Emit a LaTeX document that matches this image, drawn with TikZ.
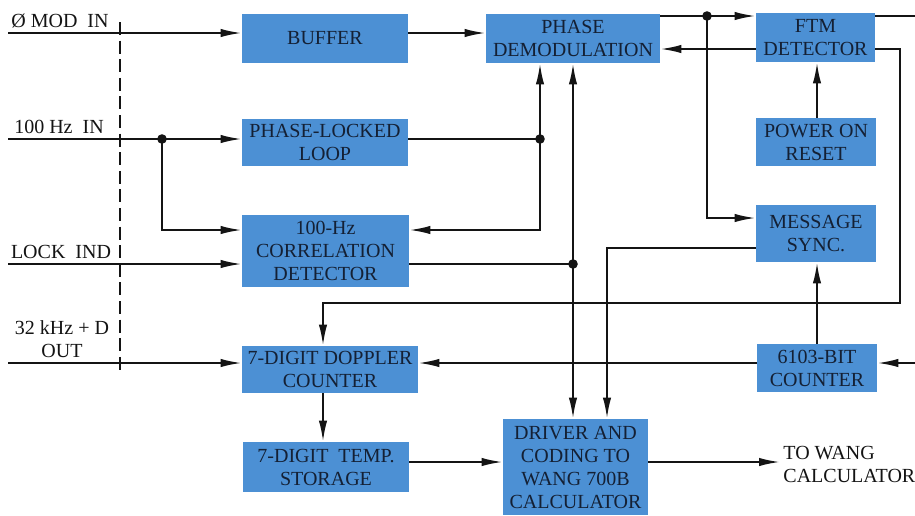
\documentclass[tikz,border=0pt]{standalone}
\usepackage{fontspec}
\setmainfont{Liberation Serif}
\usetikzlibrary{arrows.meta}
\definecolor{boxblue}{RGB}{76,144,212}
\definecolor{boxtext}{RGB}{20,32,52}
\definecolor{ink}{RGB}{20,20,20}
\begin{document}
\begin{tikzpicture}[x=0.5pt,y=-0.5pt,
  box/.style={fill=boxblue,draw=none,text=boxtext,align=center,inner sep=0pt,
    font=\rmfamily\fontsize{10}{11.5}\selectfont},
  lbl/.style={text=ink,inner sep=0pt,font=\rmfamily\fontsize{10}{11.5}\selectfont},
  wire/.style={draw=ink,line width=1pt},
  arr/.style={wire,-{Latex[length=10.5pt,width=4.2pt]}},
  arrb/.style={wire,{Latex[length=10.5pt,width=4.2pt]}-{Latex[length=10.5pt,width=4.2pt]}},
  jdot/.style={fill=ink,circle,inner sep=0pt,minimum size=4.8pt}]
\useasboundingbox (0,0) rectangle (915,515);
\fill[white] (0,0) rectangle (915,515);

% boxes
\node[box,minimum width=83pt,minimum height=24.5pt] (buf) at (325,38.5) {BUFFER};
\node[box,minimum width=83pt,minimum height=23.5pt] (pll) at (325,142.5) {PHASE-LOCKED\\LOOP};
\node[box,minimum width=83.5pt,minimum height=36pt] (corr) at (325.5,251) {100-Hz\\CORRELATION\\DETECTOR};
\node[box,minimum width=87pt,minimum height=24.5pt] (phdem) at (573,38.5) {PHASE\\DEMODULATION};
\node[box,minimum width=59.5pt,minimum height=24.5pt] (ftm) at (815.5,37.5) {FTM\\DETECTOR};
\node[box,minimum width=60pt,minimum height=24pt] (por) at (816,142) {POWER ON\\RESET};
\node[box,minimum width=60pt,minimum height=28.5pt] (msync) at (816,233.5) {MESSAGE\\SYNC.};
\node[box,minimum width=88pt,minimum height=23.5pt] (dopp) at (330,369.5) {7-DIGIT DOPPLER\\COUNTER};
\node[box,minimum width=60pt,minimum height=24pt] (bit) at (817,368) {6103-BIT\\COUNTER};
\node[box,minimum width=83pt,minimum height=25pt] (temp) at (326,467) {7-DIGIT\ \ TEMP.\\STORAGE};
\node[box,minimum width=72.5pt,minimum height=48pt] (drv) at (575.5,467) {DRIVER AND\\CODING TO\\WANG 700B\\CALCULATOR};

% labels
\node[lbl,anchor=base] (lmod) at (60,27) {Ø MOD\ \ IN};
\node[lbl,anchor=base] (l100) at (59,133) {100 Hz\ \ IN};
\node[lbl,anchor=base] (llock) at (61,258) {LOCK\ \ IND};
\node[lbl,anchor=base,align=center] (l32) at (62,357) {32 kHz + D\\OUT};
\node[lbl,anchor=west,align=left] (lwang) at (783,464) {TO WANG\\CALCULATOR};

% coordinates
\coordinate (cmod) at (8,33);
\coordinate (c100) at (8,139);
\coordinate (clock) at (8,264);
\coordinate (c32) at (8,363);
\coordinate (yc) at (0,230);
\coordinate (ym) at (0,218);
\coordinate (yf) at (0,49);
\coordinate (xf) at (817,0);
\coordinate (cftmout) at (915,16);
\coordinate (cbitin) at (915,363);
\coordinate (cr1) at (900,49);
\coordinate (cr2) at (900,303);
\coordinate (cr3) at (323,303);
\coordinate (cms) at (607,248);
\coordinate (cwang) at (780,462);
\coordinate (dtop) at (120,22);
\coordinate (dbot) at (120,375);
\node[jdot] (j100) at (162,139) {};
\node[jdot] (jpll) at (540,139) {};
\node[jdot] (jcorr) at (573,264) {};
\node[jdot] (jdem) at (707,16) {};

% dashed boundary
\draw[wire,dash pattern=on 6.5pt off 2.8pt] (dtop) -- (dbot);

% connectors
\draw[arr] (cmod) -- (buf.west |- cmod);
\draw[arr] (buf.east |- cmod) -- (phdem.west |- cmod);
\draw[arr] (c100) -- (pll.west |- c100);
\draw[arr] (j100.center) |- (corr.west |- yc);
\draw[wire] (pll.east |- c100) -- (jpll.center);
\draw[arr] (jpll.center) -- (phdem.south -| jpll);
\draw[arr] (jpll.center) |- (corr.east |- yc);
\draw[arr] (clock) -- (corr.west |- clock);
\draw[wire] (corr.east |- clock) -- (jcorr.center);
\draw[arrb] (phdem.south -| jcorr) -- (drv.north -| jcorr);
\draw[wire] (phdem.east |- jdem) -- (jdem.center);
\draw[arr] (jdem.center) -- (ftm.west |- jdem);
\draw[arr] (jdem.center) |- (msync.west |- ym);
\draw[arr] (ftm.west |- yf) -- (phdem.east |- yf);
\draw[wire] (ftm.east |- jdem) -- (cftmout);
\draw[arr] (ftm.east |- yf) -- (cr1) -- (cr2) -- (cr3) -- (dopp.north -| cr3);
\draw[arr] (por.north -| xf) -- (ftm.south -| xf);
\draw[arr] (msync.west |- cms) -- (cms) -- (drv.north -| cms);
\draw[arr] (bit.north -| xf) -- (msync.south -| xf);
\draw[arr] (cbitin) -- (bit.east |- cbitin);
\draw[arr] (bit.west |- cbitin) -- (dopp.east |- cbitin);
\draw[arr] (c32) -- (dopp.west |- c32);
\draw[arr] (dopp.south -| cr3) -- (temp.north -| cr3);
\draw[arr] (temp.east |- cwang) -- (drv.west |- cwang);
\draw[arr] (drv.east |- cwang) -- (cwang);
\end{tikzpicture}
\end{document}
